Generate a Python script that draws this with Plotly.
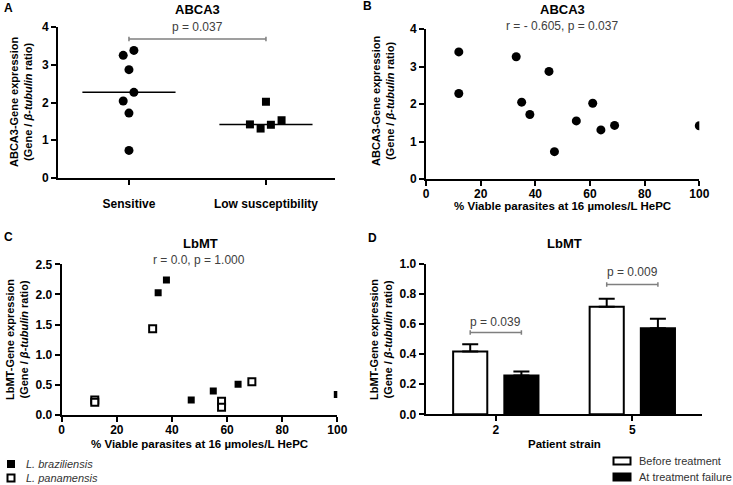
import numpy as np
import plotly.graph_objects as go

W, H = 733, 485
FONT = "Liberation Sans, Arial, sans-serif"

# ---------------- data ----------------
# Panel A: ABCA3 expression by susceptibility group
a_categories = ["Sensitive", "Low susceptibility"]
a_sensitive = [3.25, 3.38, 2.87, 2.27, 2.04, 1.72, 0.73]
a_sensitive_jitter = [-0.042, 0.036, 0.0, 0.036, -0.042, 0.0, 0.0]
a_low = [1.42, 1.31, 2.02, 1.41, 1.53]
a_low_jitter = [-0.117, -0.039, 0.0, 0.036, 0.114]
a_pvalue_text = "p = 0.037"

# Panel B: ABCA3 vs % viable parasites
b_viable = [12, 12, 33, 35, 38, 45, 47, 55, 61, 64, 69, 100]
b_expr = [3.39, 2.28, 3.26, 2.05, 1.72, 2.87, 0.73, 1.55, 2.02, 1.31, 1.43, 1.42]
b_stats_text = "r = - 0.605, p = 0.037"

# Panel C: LbMT vs % viable parasites, by species
c_species = ["L. braziliensis", "L. panamensis"]
c_braz_viable = [35, 38, 47, 55, 64, 100]
c_braz_expr = [2.03, 2.24, 0.25, 0.40, 0.51, 0.34]
c_pan_viable = [12, 12, 33, 58, 58, 69]
c_pan_expr = [0.25, 0.21, 1.43, 0.23, 0.13, 0.55]
c_stats_text = "r = 0.0, p = 1.000"

# Panel D: LbMT by patient strain
d_strains = ["2", "5"]
d_groups = ["Before treatment", "At treatment failure"]
d_before = [0.417, 0.715]
d_before_err = [0.049, 0.053]
d_after = [0.258, 0.573]
d_after_err = [0.026, 0.062]
d_pvalue_text = ["p = 0.039", "p = 0.009"]

# ---------------- helpers ----------------
def px(x):
    return x / W

def py(y):
    return 1 - y / H

fig = go.Figure()

axis_common = dict(
    showline=True, linecolor="black", linewidth=2,
    ticks="outside", ticklen=5, tickwidth=2, tickcolor="black",
    showgrid=False, zeroline=False,
    tickfont=dict(family=FONT, size=12, color="black", weight="bold"),
)

# ---- Panel A ----
xs_s = [0 + j for j in a_sensitive_jitter]
xs_l = [1 + j for j in a_low_jitter]
fig.add_trace(go.Scatter(x=xs_s, y=a_sensitive, mode="markers", xaxis="x", yaxis="y",
                         marker=dict(symbol="circle", size=9, color="black")))
fig.add_trace(go.Scatter(x=xs_l, y=a_low, mode="markers", xaxis="x", yaxis="y",
                         marker=dict(symbol="square", size=8, color="black")))
for i, vals in enumerate([a_sensitive, a_low]):
    m = float(np.median(vals))
    fig.add_trace(go.Scatter(x=[i - 0.34, i + 0.34], y=[m, m], mode="lines", xaxis="x", yaxis="y",
                             line=dict(color="black", width=1.5), hoverinfo="skip"))

# ---- Panel B ----
fig.add_trace(go.Scatter(x=b_viable, y=b_expr, mode="markers", xaxis="x2", yaxis="y2",
                         marker=dict(symbol="circle", size=9, color="black")))

# ---- Panel C ----
fig.add_trace(go.Scatter(x=c_braz_viable, y=c_braz_expr, mode="markers", xaxis="x3", yaxis="y3",
                         name=c_species[0], marker=dict(symbol="square", size=7, color="black")))
fig.add_trace(go.Scatter(x=c_pan_viable, y=c_pan_expr, mode="markers", xaxis="x3", yaxis="y3",
                         name=c_species[1],
                         marker=dict(symbol="square", size=7, color="white",
                                     line=dict(color="black", width=2))))

# ---- Panel D ----
d_x = list(range(len(d_strains)))
fig.add_trace(go.Bar(x=d_x, y=d_before, xaxis="x4", yaxis="y4", name=d_groups[0],
                     marker=dict(color="white", line=dict(color="black", width=2)),
                     error_y=dict(type="data", array=d_before_err, arrayminus=[0] * len(d_before),
                                  symmetric=False, color="black", thickness=2, width=8)))
fig.add_trace(go.Bar(x=d_x, y=d_after, xaxis="x4", yaxis="y4", name=d_groups[1],
                     marker=dict(color="black", line=dict(color="black", width=2)),
                     error_y=dict(type="data", array=d_after_err, arrayminus=[0] * len(d_after),
                                  symmetric=False, color="black", thickness=2, width=8)))

# ---------------- axes ----------------
layout = dict(
    width=W, height=H, margin=dict(l=0, r=0, t=0, b=0, autoexpand=False),
    plot_bgcolor="white", paper_bgcolor="white",
    font=dict(family=FONT, color="black"),
    barmode="group", bargap=0.25, bargroupgap=0.333,
    showlegend=False,
)
layout["xaxis"] = dict(axis_common, domain=[px(58), px(335)], range=[-0.518, 1.504],
                       tickvals=[0, 1], ticktext=a_categories, anchor="y",
                       ticklabelstandoff=9)
layout["yaxis"] = dict(axis_common, domain=[py(178), py(27)], range=[0, 4],
                       tickvals=[0, 1, 2, 3, 4], anchor="x")
layout["xaxis2"] = dict(axis_common, domain=[px(426), px(699.3)], range=[0, 100],
                        tickvals=[0, 20, 40, 60, 80, 100], anchor="y2", ticklabelstandoff=-2)
layout["yaxis2"] = dict(axis_common, domain=[py(179), py(29)], range=[0, 4],
                        tickvals=[0, 1, 2, 3, 4], anchor="x2")
layout["xaxis3"] = dict(axis_common, domain=[px(61.7), px(337.3)], range=[0, 100],
                        tickvals=[0, 20, 40, 60, 80, 100], anchor="y3", ticklabelstandoff=-2)
layout["yaxis3"] = dict(axis_common, domain=[py(415), py(264.3)], range=[0, 2.5],
                        tickvals=[0, 0.5, 1.0, 1.5, 2.0, 2.5], tickformat=".1f", anchor="x3")
layout["xaxis4"] = dict(axis_common, domain=[px(425.7), px(702)], range=[-0.5136, 1.5106],
                        tickvals=d_x, ticktext=d_strains, anchor="y4", ticklabelstandoff=-2)
layout["yaxis4"] = dict(axis_common, domain=[py(414.3), py(264)], range=[0, 1.0],
                        tickvals=[0, 0.2, 0.4, 0.6, 0.8, 1.0], tickformat=".1f", anchor="x4")
fig.update_layout(**layout)

# ---------------- annotations ----------------
ann = []

def add_text(text, x, y, size=12, bold=False, color="black", angle=0, xanchor="center",
             italic=False):
    ann.append(dict(text=text, x=px(x), y=py(y), xref="paper", yref="paper",
                    showarrow=False, xanchor=xanchor, yanchor="middle", textangle=angle,
                    font=dict(family=FONT, size=size, color=color,
                              style="italic" if italic else "normal",
                              weight="bold" if bold else "normal")))

# panel letters
add_text("A", 2, 8, size=12, bold=True, xanchor="left")
add_text("B", 361, 6, size=12, bold=True, xanchor="left")
add_text("C", 2, 237, size=12, bold=True, xanchor="left")
add_text("D", 366, 238, size=12, bold=True, xanchor="left")

# titles
add_text("ABCA3", 197, 9, size=13, bold=True)
add_text("ABCA3", 562, 9, size=13, bold=True)
add_text("LbMT", 200, 243, size=13, bold=True)
add_text("LbMT", 564, 243, size=13, bold=True)

# stats text
add_text(a_pvalue_text, 197, 27, size=12, color="#404040")
add_text(b_stats_text, 562, 26, size=12, color="#404040")
add_text(c_stats_text, 199, 260, size=12, color="#404040")

# y-axis titles
ytitle = lambda gene: f"{gene}-Gene expression<br>(Gene / <i>β-tubulin</i> ratio)"
add_text(ytitle("ABCA3"), 21, 102, size=11, bold=True, angle=-90)
add_text(ytitle("ABCA3"), 383, 101, size=11, bold=True, angle=-90)
add_text(ytitle("LbMT"), 17, 340, size=11, bold=True, angle=-90)
add_text(ytitle("LbMT"), 381, 340, size=11, bold=True, angle=-90)

# x-axis titles
add_text("% Viable parasites at 16 µmoles/L HePC", 562, 206, size=11.5, bold=True)
add_text("% Viable parasites at 16 µmoles/L HePC", 199, 444, size=11.5, bold=True)
add_text("Patient strain", 564, 444, size=11.5, bold=True)

# p-value text in D (data coords)
d_bracket_y = [0.544, 0.864]
d_text_y = [0.617, 0.946]
for i in range(len(d_strains)):
    ann.append(dict(text=d_pvalue_text[i], x=i, y=d_text_y[i], xref="x4", yref="y4",
                    showarrow=False, font=dict(family=FONT, size=12, color="#404040")))

# legend texts
legend_rows_left = [464, 478]
legend_rows_right = [461, 477]
for name, yy in zip(c_species, legend_rows_left):
    add_text(name, 24, yy, size=11, color="#333333", xanchor="left", italic=True)
for name, yy in zip(d_groups, legend_rows_right):
    add_text(name, 637, yy, size=11, color="#333333", xanchor="left")

fig.update_layout(annotations=ann)

# ---------------- shapes: brackets + legend symbols ----------------
shapes = []
def bracket(xref, yref, x0, x1, y, tick):
    style = dict(color="#7f7f7f", width=1.5)
    shapes.append(dict(type="line", xref=xref, yref=yref, x0=x0, x1=x1, y0=y, y1=y, line=style))
    for xx in (x0, x1):
        shapes.append(dict(type="line", xref=xref, yref=yref, x0=xx, x1=xx,
                           y0=y - tick, y1=y + tick, line=style))

bracket("x", "y", 0, 1, 3.68, 0.06)
for i in range(len(d_strains)):
    bracket("x4", "y4", i - 0.1875, i + 0.1875, d_bracket_y[i], 0.015)

def legend_box(cx, cy, w, h, fill):
    shapes.append(dict(type="rect", xref="paper", yref="paper",
                       x0=px(cx - w / 2), x1=px(cx + w / 2), y0=py(cy + h / 2), y1=py(cy - h / 2),
                       fillcolor=fill, line=dict(color="black", width=2)))

legend_box(11, legend_rows_left[0], 6, 6, "black")
legend_box(11, legend_rows_left[1], 7, 7, "white")
legend_box(622, legend_rows_right[0], 17, 7, "white")
legend_box(622, legend_rows_right[1], 17, 7, "black")
fig.update_layout(shapes=shapes)

fig.write_html("out.html", config={"displayModeBar": False},
               post_script="document.body.style.margin='0px';")
